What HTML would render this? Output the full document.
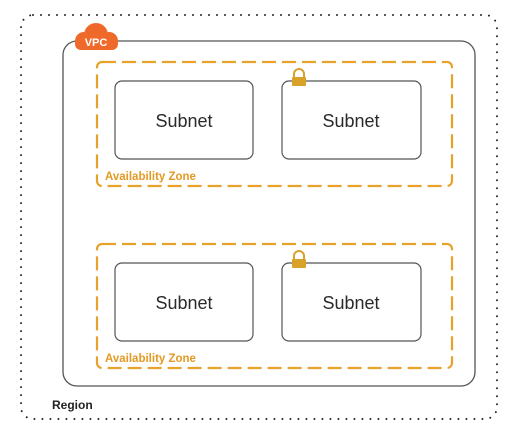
<!DOCTYPE html>
<html><head><style>
body{margin:0;width:505px;height:431px;background:#fff;overflow:hidden}
</style></head><body>
<svg width="505" height="431" xmlns="http://www.w3.org/2000/svg" font-family="Liberation Sans, Arial, sans-serif">
<rect x="21" y="15" width="476" height="404" rx="12" fill="none" stroke="#222" stroke-width="2" stroke-dasharray="0 8" stroke-linecap="round"/>
<rect x="63" y="41" width="412" height="345" rx="14" fill="none" stroke="#555" stroke-width="1.3"/>
<g fill="#ef6a2a">
<circle cx="84" cy="41" r="9"/><circle cx="96" cy="35" r="12"/><circle cx="109" cy="41" r="9"/>
<rect x="75" y="38" width="43" height="12" rx="6"/>
</g>
<text x="96" y="46" font-size="11" font-weight="bold" fill="#fff" text-anchor="middle">VPC</text>
<g fill="none" stroke="#e7a22c" stroke-width="2.2" stroke-dasharray="14 6">
<rect x="97" y="62" width="355" height="124" rx="5"/>
<rect x="97" y="244" width="355" height="124" rx="5"/>
</g>
<g fill="#fff" stroke="#555" stroke-width="1.2">
<rect x="115" y="81" width="138" height="78" rx="7"/>
<rect x="282" y="81" width="139" height="78" rx="7"/>
<rect x="115" y="263" width="138" height="78" rx="7"/>
<rect x="282" y="263" width="139" height="78" rx="7"/>
</g>
<g font-size="18" fill="#2a2a2a" text-anchor="middle">
<text x="184" y="127">Subnet</text><text x="351" y="127">Subnet</text>
<text x="184" y="309">Subnet</text><text x="351" y="309">Subnet</text>
</g>
<g fill="#d9a02a">
<path d="M294 77v-3a5 5 0 0 1 10 0v3" fill="none" stroke="#d9a02a" stroke-width="2"/>
<rect x="292" y="77" width="14" height="9" rx="1"/>
<path d="M294 259v-3a5 5 0 0 1 10 0v3" fill="none" stroke="#d9a02a" stroke-width="2"/>
<rect x="292" y="259" width="14" height="9" rx="1"/>
</g>
<g font-size="11.5" font-weight="bold" fill="#e39a23">
<rect x="103" y="168" width="106" height="14" fill="#fff"/>
<text x="105" y="180">Availability Zone</text>
<rect x="103" y="350" width="106" height="14" fill="#fff"/>
<text x="105" y="362">Availability Zone</text>
</g>
<text x="52" y="409" font-size="12" font-weight="bold" fill="#222">Region</text>
</svg>
</body></html>
